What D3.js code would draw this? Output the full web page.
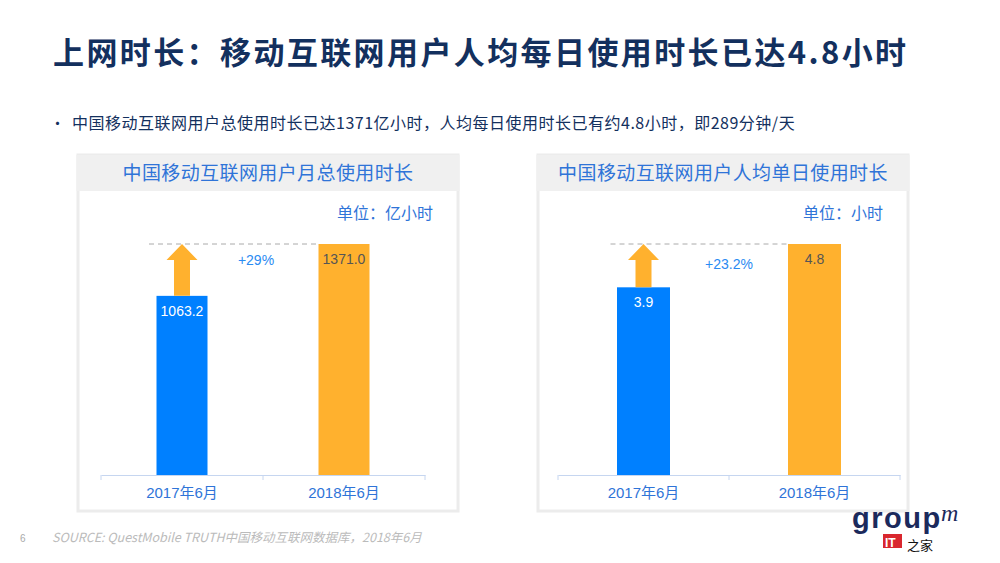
<!DOCTYPE html>
<html>
<head>
<meta charset="utf-8">
<script src="https://cdn.jsdelivr.net/npm/d3@7"></script>
<style>
  body { margin: 0; background: #fff; }
  svg { display: block; font-family: "Noto Sans CJK SC", "Liberation Sans", Arial, sans-serif; }
</style>
</head>
<body>
<svg width="1000" height="563"></svg>
<script>
"use strict";

const categories = ["2017年6月", "2018年6月"];
const totalHours = [1063.2, 1371.0];
const dailyHours = [3.9, 4.8];
const totalLabels = ["1063.2", "1371.0"];
const dailyLabels = ["3.9", "4.8"];
const growth = ["+29%", "+23.2%"];

const title = "上网时长：移动互联网用户人均每日使用时长已达4.8小时";
const bullet = "中国移动互联网用户总使用时长已达1371亿小时，人均每日使用时长已有约4.8小时，即289分钟/天";

const svg = d3.select("svg");
const blue = "#0080ff";
const orange = "#ffb12e";
const textBlue = "#2f74d8";

svg.append("text")
  .attr("x", 53).attr("y", 64)
  .attr("font-size", 31).attr("font-weight", "bold")
  .attr("letter-spacing", 2.4)
  .attr("fill", "#13305e")
  .text(title);

svg.append("text")
  .attr("x", 50).attr("y", 129)
  .attr("font-size", 15).attr("fill", "#13305e")
  .text("•");
svg.append("text")
  .attr("x", 72).attr("y", 129)
  .attr("font-size", 16).attr("fill", "#13305e")
  .attr("letter-spacing", 0.5)
  .text(bullet);

const panels = [
  { x0: 78, x1: 458, head: "中国移动互联网用户月总使用时长", unit: "单位：亿小时",
    values: totalHours, labels: totalLabels, growth: growth[0],
    axis: [101, 425], barW: 51, gx: 256, gy: 265 },
  { x0: 538, x1: 908, head: "中国移动互联网用户人均单日使用时长", unit: "单位：小时",
    values: dailyHours, labels: dailyLabels, growth: growth[1],
    axis: [558, 900], barW: 53, gx: 729, gy: 269 }
];

const baseY = 475;
const topY = 244;

panels.forEach(p => {
  const g = svg.append("g");

  // frame
  g.append("rect")
    .attr("x", p.x0).attr("y", 155)
    .attr("width", p.x1 - p.x0).attr("height", 356)
    .attr("fill", "#fff").attr("stroke", "#ececec").attr("stroke-width", 3);
  g.append("rect")
    .attr("x", p.x0 - 1.5).attr("y", 155)
    .attr("width", p.x1 - p.x0 + 3).attr("height", 36)
    .attr("fill", "#f0f0f0");
  g.append("text")
    .attr("x", (p.x0 + p.x1) / 2).attr("y", 180)
    .attr("text-anchor", "middle")
    .attr("font-size", 19).attr("fill", textBlue)
    .attr("letter-spacing", 0.4)
    .text(p.head);
  g.append("text")
    .attr("x", p.x1 - 25).attr("y", 219)
    .attr("text-anchor", "end")
    .attr("font-size", 16).attr("fill", textBlue)
    .text(p.unit);

  const x = d3.scaleBand().domain(categories).range(p.axis).padding(0);
  const y = d3.scaleLinear()
    .domain([0, d3.max(p.values)])
    .range([baseY, topY]);

  const axis = d3.axisBottom(x).tickSize(0).tickPadding(12);
  const ag = g.append("g")
    .attr("transform", `translate(0,${baseY})`)
    .call(axis);
  ag.select(".domain").attr("stroke", "#c6d6f0");
  ag.selectAll(".tick text")
    .attr("font-size", 15).attr("fill", textBlue)
    .attr("font-family", "Liberation Sans, Noto Sans CJK SC, sans-serif");
  // boundary ticks
  const edges = [p.axis[0], (p.axis[0] + p.axis[1]) / 2, p.axis[1]];
  g.selectAll(".edge")
    .data(edges)
    .enter()
    .append("line")
    .attr("x1", d => d).attr("x2", d => d)
    .attr("y1", baseY).attr("y2", baseY + 5)
    .attr("stroke", "#c6d6f0");

  const cx = i => x(categories[i]) + x.bandwidth() / 2;

  g.selectAll(".bar")
    .data(p.values)
    .enter()
    .append("rect")
    .attr("x", (d, i) => cx(i) - p.barW / 2)
    .attr("y", d => y(d))
    .attr("width", p.barW)
    .attr("height", d => baseY - y(d))
    .attr("fill", (d, i) => i === 0 ? blue : orange);

  g.selectAll(".val")
    .data(p.values)
    .enter()
    .append("text")
    .attr("x", (d, i) => cx(i))
    .attr("y", d => y(d) + 20)
    .attr("text-anchor", "middle")
    .attr("font-size", 14)
    .attr("font-family", "Liberation Sans, Arial, sans-serif")
    .attr("fill", (d, i) => i === 0 ? "#fff" : "#555")
    .text((d, i) => p.labels[i]);

  // dashed reference line
  g.append("line")
    .attr("x1", cx(0) - 33).attr("x2", cx(1) - p.barW / 2)
    .attr("y1", y(p.values[1])).attr("y2", y(p.values[1]))
    .attr("stroke", "#aaa").attr("stroke-dasharray", "5,4");

  // arrow from bar 1 up to bar 2 level
  const ax = cx(0);
  const tip = y(p.values[1]);
  const base = y(p.values[0]);
  const arrow = d3.path();
  arrow.moveTo(ax, tip);
  arrow.lineTo(ax + 15.5, tip + 16);
  arrow.lineTo(ax + 8, tip + 16);
  arrow.lineTo(ax + 8, base);
  arrow.lineTo(ax - 8, base);
  arrow.lineTo(ax - 8, tip + 16);
  arrow.lineTo(ax - 15.5, tip + 16);
  arrow.closePath();
  g.append("path").attr("d", arrow.toString()).attr("fill", orange);

  g.append("text")
    .attr("x", p.gx).attr("y", p.gy)
    .attr("text-anchor", "middle")
    .attr("font-size", 14)
    .attr("font-family", "Liberation Sans, Arial, sans-serif")
    .attr("fill", "#2a8bf2")
    .text(p.growth);
});

// footer
svg.append("text")
  .attr("x", 20).attr("y", 542)
  .attr("font-size", 10).attr("fill", "#aaa")
  .attr("font-family", "Liberation Sans, Arial, sans-serif")
  .text("6");
svg.append("text")
  .attr("x", 52).attr("y", 542)
  .attr("font-size", 12.5).attr("fill", "#bbb")
  .attr("font-style", "italic")
  .text("SOURCE: QuestMobile TRUTH中国移动互联网数据库，2018年6月");

// logo
svg.append("text")
  .attr("x", 852).attr("y", 528)
  .attr("font-size", 29).attr("font-weight", "bold")
  .attr("letter-spacing", 1.5)
  .attr("font-family", "Liberation Sans, Arial, sans-serif")
  .attr("fill", "#1b2a5c")
  .text("group");
svg.append("text")
  .attr("x", 941).attr("y", 521)
  .attr("font-size", 24).attr("font-style", "italic")
  .attr("font-family", "Liberation Serif, serif")
  .attr("fill", "#1b2a5c")
  .text("m");
svg.append("rect")
  .attr("x", 883).attr("y", 534)
  .attr("width", 19).attr("height", 14)
  .attr("fill", "#d9272e");
svg.append("text")
  .attr("x", 885).attr("y", 547)
  .attr("font-size", 12).attr("font-weight", "bold")
  .attr("font-family", "Liberation Sans, Arial, sans-serif")
  .attr("fill", "#fff")
  .text("IT");
svg.append("text")
  .attr("x", 907).attr("y", 550)
  .attr("font-size", 13)
  .attr("fill", "#111")
  .text("之家");
</script>
</body>
</html>
